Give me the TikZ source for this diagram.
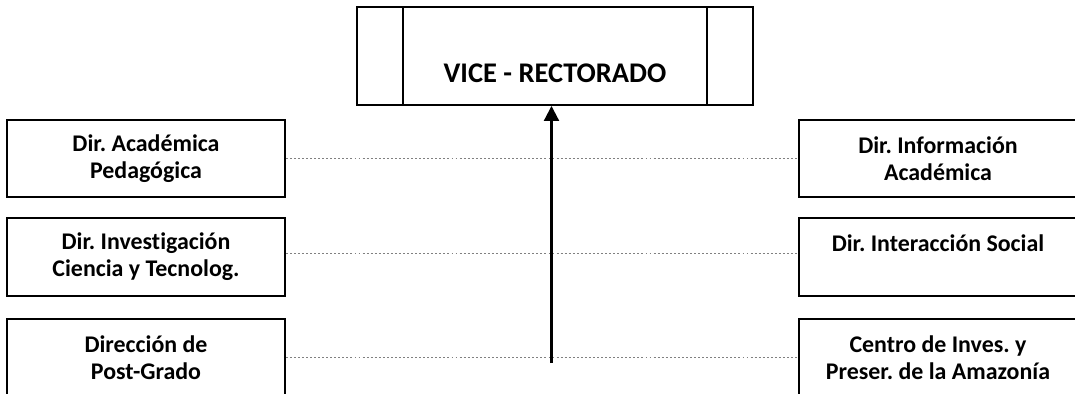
\documentclass[tikz,border=0pt]{standalone}
\usepackage{fontspec}
\setmainfont{Carlito}[Ligatures=NoCommon]
\frenchspacing
\usetikzlibrary{arrows.meta}
\tikzstyle{dirbox} = [rectangle, minimum width=5.56cm, minimum height=1.55cm, inner sep=0pt, text centered, align=center, draw=black, line width=0.9pt, font=\fontsize{13.6}{15.4}\selectfont\bfseries]
\tikzstyle{headbox} = [rectangle, minimum width=7.92cm, minimum height=1.96cm, inner sep=0pt, text centered, align=center, draw=black, line width=1.1pt, font=\fontsize{16.2}{17.6}\selectfont\bfseries]
\tikzstyle{arrow} = [line width=1.2pt,-{Triangle[length=8.5pt,width=8.5pt]}]
\tikzstyle{dotline} = [gray, line width=0.55pt, dash pattern=on 1.1pt off 1.2pt]

\begin{document}
\begin{tikzpicture}[node distance=1.97cm]
\useasboundingbox (0,0) rectangle (21.5,-7.88);
\clip (0,0) rectangle (21.5,-7.88);

\node (vr) [headbox] at (11.1,-1.12) {\strut\\VICE - RECTORADO};
\draw [line width=1.1pt] ([xshift=0.94cm]vr.north west) -- ([xshift=0.94cm]vr.south west);
\draw [line width=1.1pt] ([xshift=-0.94cm]vr.north east) -- ([xshift=-0.94cm]vr.south east);

\node (a1) [dirbox] at (2.92,-3.17) {Dir. Académica\\Pedagógica};
\node (a2) [dirbox, below of=a1] {Dir. Investigación\\Ciencia y Tecnolog.};
\node (a3) [dirbox, below of=a2, yshift=-0.04cm] {Dirección de\\Post-Grado};
\node (b1) [dirbox, right of=a1, xshift=13.87cm] {Dir. Información\\Académica};
\node (b2) [dirbox, below of=b1] {Dir. Interacción Social\\\mbox{}};
\node (b3) [dirbox, below of=b2, yshift=-0.04cm] {Centro de Inves. y\\Preser. de la Amazonía};

\draw [dotline] (a1) -- (b1);
\draw [dotline] ([yshift=0.08cm]a2.east) -- ([yshift=0.08cm]b2.west);
\draw [dotline] (a3) -- (b3);

\coordinate (base) at (11.03,-7.26);
\draw [arrow] (base) -- (base |- vr.south);
\end{tikzpicture}
\end{document}
